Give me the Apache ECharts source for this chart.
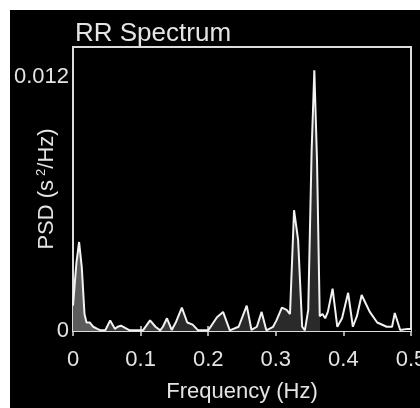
<!DOCTYPE html>
<html>
<head>
<meta charset="utf-8">
<script src="https://cdn.jsdelivr.net/npm/echarts@6/dist/echarts.min.js"></script>
<style>
html,body{margin:0;padding:0;background:#fff;}
#c{width:420px;height:408px;}
</style>
</head>
<body>
<div id="c"></div>
<script>
// Frequency (Hz) and PSD (s^2/Hz) values
var freq = [0.000,0.005,0.009,0.013,0.017,0.020,0.025,0.030,0.036,0.041,0.048,0.055,0.062,0.066,0.071,0.077,0.084,0.095,0.104,0.114,0.122,0.129,0.133,0.139,0.146,0.152,0.161,0.169,0.177,0.185,0.200,0.213,0.222,0.232,0.245,0.257,0.264,0.272,0.279,0.286,0.296,0.301,0.309,0.316,0.321,0.327,0.333,0.339,0.343,0.348,0.353,0.357,0.361,0.365,0.369,0.373,0.377,0.384,0.391,0.398,0.407,0.414,0.420,0.427,0.433,0.439,0.450,0.464,0.472,0.476,0.484,0.495,0.500];
var psd  = [0.0012,0.0032,0.0042,0.0030,0.0008,0.0004,0.0004,0.0002,0.0001,0.00003,0.00005,0.0005,0.0001,0.0002,0.00025,0.00015,0.00003,0.00003,0.00005,0.0005,0.0002,0.00003,0.0002,0.0006,0.00005,0.0004,0.0011,0.0004,0.0003,0.00003,0.00003,0.00065,0.0009,0.00003,0.0002,0.0012,0.00005,0.0002,0.0009,0.00003,0.0002,0.0005,0.0011,0.0010,0.0008,0.0057,0.0043,0.0002,0.00003,0.0010,0.0085,0.0123,0.0080,0.0007,0.0008,0.0006,0.0009,0.0020,0.0002,0.0006,0.0018,0.0002,0.0007,0.0017,0.0013,0.0009,0.0004,0.0002,0.0002,0.00085,0.00005,0.0001,0.0001];
var xTicks = [0, 0.1, 0.2, 0.3, 0.4, 0.5];
var yTicks = [0, 0.012];
var titleText = 'RR Spectrum';
var xName = 'Frequency (Hz)';

var data = freq.map(function (f, i) { return [f, psd[i]]; });
var FONT = 'Liberation Sans, Arial, Helvetica, sans-serif';
var TXT = '#e4e4e4';
var AX = '#dcdcdc';

var chart = echarts.init(document.getElementById('c'), null, {renderer: 'canvas'});
chart.setOption({
  backgroundColor: '#000',
  animation: false,
  graphic: [
    {type: 'rect', left: 0, top: 0, shape: {width: 420, height: 10}, style: {fill: '#fff'}, z: 100},
    {type: 'rect', left: 0, top: 0, shape: {width: 10, height: 408}, style: {fill: '#fff'}, z: 100}
  ],
  title: {
    text: titleText, left: 70, top: 16,
    textStyle: {color: TXT, fontSize: 26, fontWeight: 'normal', fontFamily: FONT}
  },
  grid: {left: 73, right: 9, top: 47, bottom: 77, containLabel: false, outerBoundsMode: 'none',
    show: true, borderColor: AX, borderWidth: 2, backgroundColor: 'transparent'},
  visualMap: {
    type: 'piecewise', show: false, dimension: 0, seriesIndex: 0,
    pieces: [
      {lt: 0.04, color: '#5c5c5c'},
      {gte: 0.04, lt: 0.15, color: '#3c3c3c'},
      {gte: 0.15, lt: 0.366, color: '#2a2a2a'},
      {gte: 0.366, color: '#000000'}
    ]
  },
  xAxis: [{
    type: 'value', min: 0, max: 0.5, interval: 0.1,
    name: xName, nameLocation: 'middle', nameGap: 50, nameMoveOverlap: false,
    nameTextStyle: {color: TXT, fontSize: 22, fontFamily: FONT},
    axisLine: {show: true, lineStyle: {color: AX, width: 2}},
    axisTick: {show: true, inside: true, length: 5, lineStyle: {color: AX, width: 1.5}},
    axisLabel: {color: TXT, fontSize: 22, fontFamily: FONT, margin: 18,
      formatter: function (v) { var r = Math.round(v * 10) / 10; return xTicks.indexOf(r) >= 0 ? String(r) : ''; }},
    splitLine: {show: false}
  }, {
    type: 'value', min: 0, max: 0.5, interval: 0.1, position: 'top', show: true,
    axisLine: {show: true, lineStyle: {color: AX, width: 2}},
    axisTick: {show: true, inside: true, length: 5, lineStyle: {color: AX, width: 1.5}},
    axisLabel: {show: false}, splitLine: {show: false}
  }],
  yAxis: [{
    type: 'value', min: 0, max: 0.0134, interval: 0.012,
    name: 'PSD (s{sup|2}/Hz)', nameLocation: 'middle', nameRotate: 90, nameGap: 15, nameMoveOverlap: false,
    nameTextStyle: {color: TXT, fontSize: 22, fontFamily: FONT,
      rich: {sup: {fontSize: 13, color: TXT, fontFamily: FONT, verticalAlign: 'top', padding: [0, 0, 10, 4]}}},
    axisLine: {show: true, lineStyle: {color: AX, width: 2}},
    axisTick: {show: false},
    axisLabel: {color: TXT, fontSize: 22, fontFamily: FONT, margin: 4, padding: [0, 0, 28, 0],
      formatter: function (v) {
        if (Math.abs(v) < 1e-9) return '0';
        if (Math.abs(v - yTicks[1]) < 1e-9) return '0.012';
        return '';
      }},
    splitLine: {show: false}
  }, {
    type: 'value', min: 0, max: 0.0134, position: 'right', show: true,
    axisLine: {show: true, lineStyle: {color: AX, width: 2}},
    axisTick: {show: false}, axisLabel: {show: false}, splitLine: {show: false}
  }],
  series: [{
    type: 'line', data: data, symbol: 'none', silent: true,
    lineStyle: {width: 0, opacity: 0},
    areaStyle: {opacity: 1},
    z: 2
  }, {
    type: 'line', data: data, symbol: 'none', silent: true,
    lineStyle: {color: '#f2f2f2', width: 2},
    itemStyle: {color: '#f2f2f2'},
    z: 3
  }, {
    type: 'line', data: [], xAxisIndex: 1, yAxisIndex: 1, symbol: 'none', silent: true
  }]
});
</script>
</body>
</html>
